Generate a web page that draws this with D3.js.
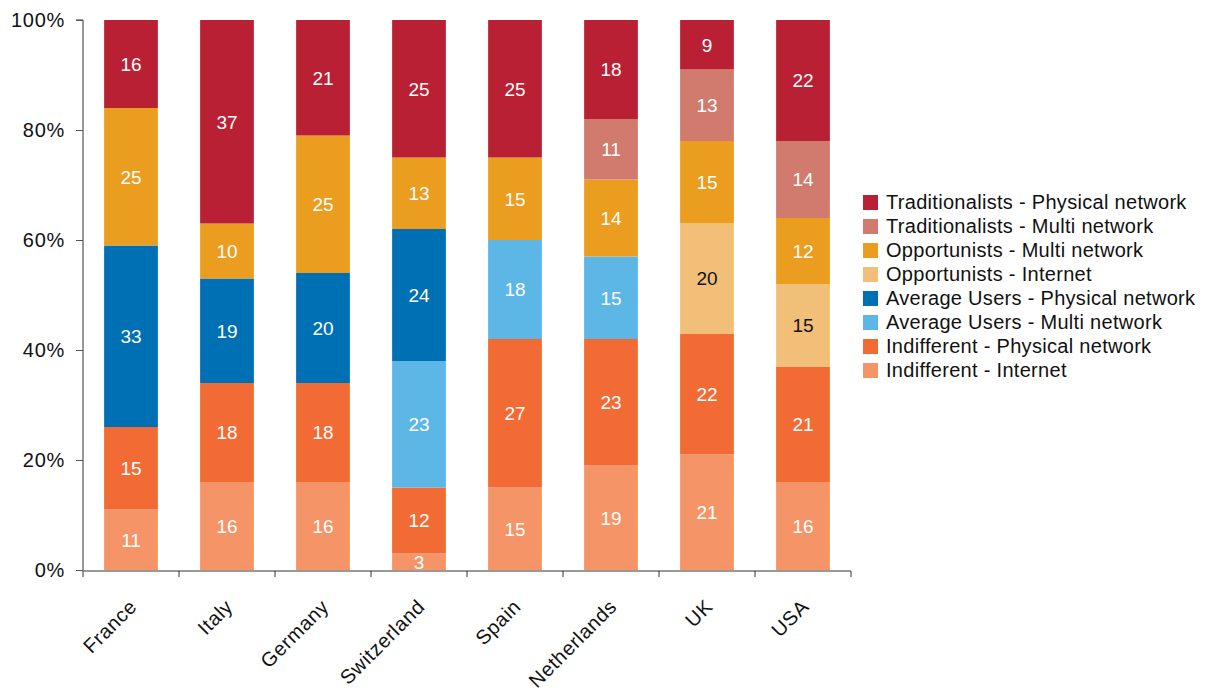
<!DOCTYPE html>
<html><head><meta charset="utf-8">
<script src="https://cdn.jsdelivr.net/npm/d3@7"></script>
<style>body{margin:0;background:#fff;} text{font-family:"Liberation Sans",Arial,Helvetica,sans-serif;}</style>
</head><body>
<svg id="c" width="1205" height="699"></svg>
<script>
const countries = ["France","Italy","Germany","Switzerland","Spain","Netherlands","UK","USA"];
const seriesNames = ["Indifferent - Internet","Indifferent - Physical network","Average Users - Multi network","Average Users - Physical network","Opportunists - Internet","Opportunists - Multi network","Traditionalists - Multi network","Traditionalists - Physical network"];
const seriesColors = ["#F59466","#F26B35","#5CB6E6","#0070B5","#F2BF78","#EA9D1E","#D17A6E","#BA2033"];
const labelColors = ["#fff","#fff","#fff","#fff","#111","#fff","#fff","#fff"];
const indifferentInternet = [11,16,16,3,15,19,21,16];
const indifferentPhysical = [15,18,18,12,27,23,22,21];
const averageMulti = [0,0,0,23,18,15,0,0];
const averagePhysical = [33,19,20,24,0,0,0,0];
const opportunistsInternet = [0,0,0,0,0,0,20,15];
const opportunistsMulti = [25,10,25,13,15,14,15,12];
const traditionalistsMulti = [0,0,0,0,0,11,13,14];
const traditionalistsPhysical = [16,37,21,25,25,18,9,22];
const yTicks = [0,0.2,0.4,0.6,0.8,1];

const seriesValues = [indifferentInternet,indifferentPhysical,averageMulti,averagePhysical,opportunistsInternet,opportunistsMulti,traditionalistsMulti,traditionalistsPhysical];
const rows = countries.map((c,i)=>{const r={country:c}; seriesNames.forEach((s,j)=>r[s]=seriesValues[j][i]); return r;});
const stacked = d3.stack().keys(seriesNames).offset(d3.stackOffsetExpand)(rows);

const svg = d3.select("#c");
const m = {l:83, r:355, t:20, b:129};
const W = 1205, H = 699;
const x = d3.scaleBand().domain(countries).range([m.l, W-m.r+1]).paddingInner(0.44).paddingOuter(0.22);
const y = d3.scaleLinear().domain([0,1]).range([H-m.b, m.t]);

const g = svg.append("g");
stacked.forEach((layer,j)=>{
  const lg = g.append("g");
  lg.selectAll("rect").data(layer).join("rect")
    .attr("x", d=>x(d.data.country)).attr("width", x.bandwidth())
    .attr("y", d=>y(d[1])).attr("height", d=>Math.max(0,y(d[0])-y(d[1])))
    .attr("fill", seriesColors[j]);
  lg.selectAll("text").data(layer.filter(d=>d.data[seriesNames[j]]>0)).join("text")
    .attr("x", d=>x(d.data.country)+x.bandwidth()/2)
    .attr("y", d=>(y(d[0])+y(d[1]))/2)
    .attr("dy","0.36em").attr("text-anchor","middle")
    .attr("font-size",19).attr("fill",labelColors[j])
    .text(d=>d.data[seriesNames[j]]);
});

// y axis
const ya = svg.append("g").attr("transform",`translate(${m.l},0)`)
  .call(d3.axisLeft(y).tickValues(yTicks).tickFormat(d3.format(".0%")).tickSize(7).tickPadding(11));
ya.select(".domain").attr("stroke","#333").attr("d",`M-7,${y(1)}H0V${y(0)}`);
ya.selectAll(".tick line").attr("stroke","#555");
ya.selectAll(".tick text").attr("font-size",20).attr("letter-spacing","0.7px").attr("fill","#111").attr("font-family","Liberation Sans, Arial, sans-serif");

// x axis
const xa = svg.append("g").attr("transform",`translate(0,${y(0)+1})`);
const bounds = d3.range(countries.length+1).map(i=>m.l + i*(W-m.r+1-m.l)/countries.length);
xa.append("line").attr("x1",m.l).attr("x2",bounds[bounds.length-1]).attr("y1",0).attr("y2",0).attr("stroke","#333");
xa.selectAll("line.t").data(bounds).join("line").attr("class","t")
  .attr("x1",d=>d).attr("x2",d=>d).attr("y1",0).attr("y2",6).attr("stroke","#333");
xa.selectAll("text").data(countries).join("text")
  .attr("transform",d=>`translate(${x(d)+x.bandwidth()/2+7},${37}) rotate(-45)`)
  .attr("text-anchor","end").attr("font-size",20).attr("letter-spacing","0.6px").attr("fill","#111")
  .text(d=>d);

// legend
const legendOrder = seriesNames.map((s,i)=>i).reverse();
const lgd = svg.append("g").attr("transform","translate(863,202)");
legendOrder.forEach((j,k)=>{
  const r = lgd.append("g").attr("transform",`translate(0,${k*24})`);
  r.append("rect").attr("x",0).attr("y",-7).attr("width",15).attr("height",15).attr("fill",seriesColors[j]);
  r.append("text").attr("x",23).attr("y",0).attr("dy","0.36em").attr("font-size",20).attr("letter-spacing","0.3px").attr("fill","#111").text(seriesNames[j]);
});
</script>
</body></html>
